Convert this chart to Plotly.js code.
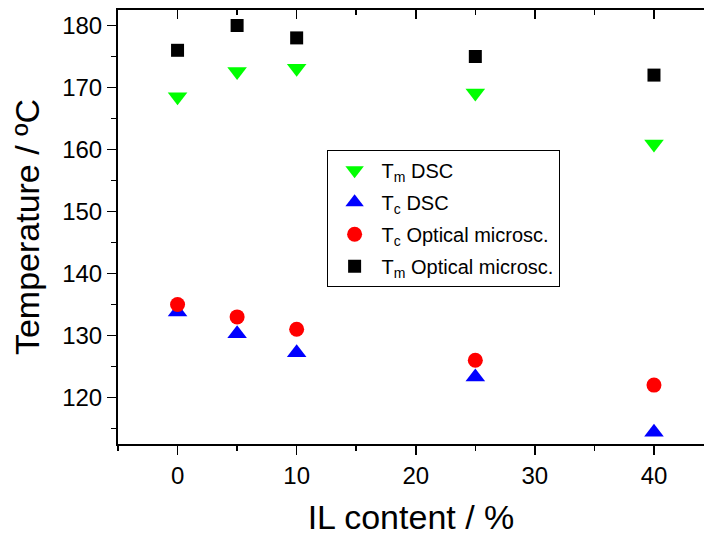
<!DOCTYPE html>
<html>
<head>
<meta charset="utf-8">
<script src="https://cdn.plot.ly/plotly-3.0.1.min.js"></script>
<style>html,body{margin:0;padding:0;background:#fff}#chart{width:704px;height:536px}</style>
</head>
<body>
<div id="chart"></div>
<script>
const ilContent = [0, 5, 10, 25, 40];
const tmDSC = [168.5, 172.6, 173.1, 169.1, 160.9];
const tcDSC = [133.8, 130.3, 127.2, 123.3, 114.4];
const tcOptical = [135, 133, 131, 126, 122];
const tmOptical = [176, 180, 178, 175, 172];
const seriesNames = ['T<sub>m</sub> DSC', 'T<sub>c</sub> DSC', 'T<sub>c</sub> Optical microsc.', 'T<sub>m</sub> Optical microsc.'];
const xTicks = [0, 10, 20, 30, 40];
const yTicks = [120, 130, 140, 150, 160, 170, 180];

const FONT = 'Liberation Sans, Arial, sans-serif';
const traces = [
  {x: ilContent, y: tmDSC, name: seriesNames[0], legendgroup: 'a', mode: 'markers', type: 'scatter',
   marker: {symbol: 'triangle-down', size: 17, color: '#00ff00'}},
  {x: ilContent, y: tcDSC, name: seriesNames[1], legendgroup: 'b', mode: 'markers', type: 'scatter',
   marker: {symbol: 'triangle-up', size: 17, color: '#0000ff'}},
  {x: ilContent, y: tcOptical, name: seriesNames[2], legendgroup: 'c', mode: 'markers', type: 'scatter',
   marker: {symbol: 'circle', size: 15, color: '#ff0000'}},
  {x: ilContent, y: tmOptical, name: seriesNames[3], legendgroup: 'd', mode: 'markers', type: 'scatter',
   marker: {symbol: 'square', size: 13, color: '#000000'}},
  {x: [], y: [], xaxis: 'x2', yaxis: 'y', showlegend: false, hoverinfo: 'skip', type: 'scatter', mode: 'markers'}
];

const xr = [-5, 44.2];
const layout = {
  width: 704, height: 536,
  margin: {l: 118, r: 0, t: 10, b: 92},
  paper_bgcolor: '#fff', plot_bgcolor: '#fff',
  font: {family: FONT, color: '#000'},
  showlegend: true,
  legend: {x: 0.356, y: 0.678, xanchor: 'left', yanchor: 'top',
    bordercolor: '#000', borderwidth: 1, bgcolor: '#fff',
    itemwidth: 44, tracegroupgap: 3,
    font: {family: FONT, size: 20, color: '#000'}},
  xaxis: {
    range: xr, tickvals: xTicks, ticktext: xTicks.map(String),
    showgrid: false, zeroline: false,
    showline: true, linecolor: '#000', linewidth: 2,
    ticks: 'outside', ticklen: 9, tickwidth: 1.5, tickcolor: '#000',
    minor: {dtick: 5, tick0: 0, ticks: 'outside', ticklen: 5, tickwidth: 1.5, tickcolor: '#000', showgrid: false},
    tickfont: {family: FONT, size: 24, color: '#000'},
    title: {text: 'IL content / %', font: {family: FONT, size: 34, color: '#000'}}
  },
  xaxis2: {
    range: xr, overlaying: 'x', side: 'top', anchor: 'y',
    tickvals: xTicks, showticklabels: false,
    showgrid: false, zeroline: false,
    showline: true, linecolor: '#000', linewidth: 1.6,
    ticks: 'inside', ticklen: 9, tickwidth: 1.5, tickcolor: '#000',
    minor: {dtick: 5, tick0: 0, ticks: 'inside', ticklen: 5, tickwidth: 1.5, tickcolor: '#000', showgrid: false}
  },
  yaxis: {
    range: [112.5, 182.5], tickvals: yTicks, ticktext: yTicks.map(String),
    showgrid: false, zeroline: false,
    showline: true, linecolor: '#000', linewidth: 2,
    ticks: 'outside', ticklen: 9, tickwidth: 1.5, tickcolor: '#000',
    minor: {dtick: 5, tick0: 0, ticks: 'outside', ticklen: 5, tickwidth: 1.5, tickcolor: '#000', showgrid: false},
    tickfont: {family: FONT, size: 24, color: '#000'},
    title: {text: 'Temperature / ºC', font: {family: FONT, size: 34, color: '#000'}}
  }
};

Plotly.newPlot('chart', traces, layout, {displayModeBar: false, staticPlot: true});
</script>
</body>
</html>
